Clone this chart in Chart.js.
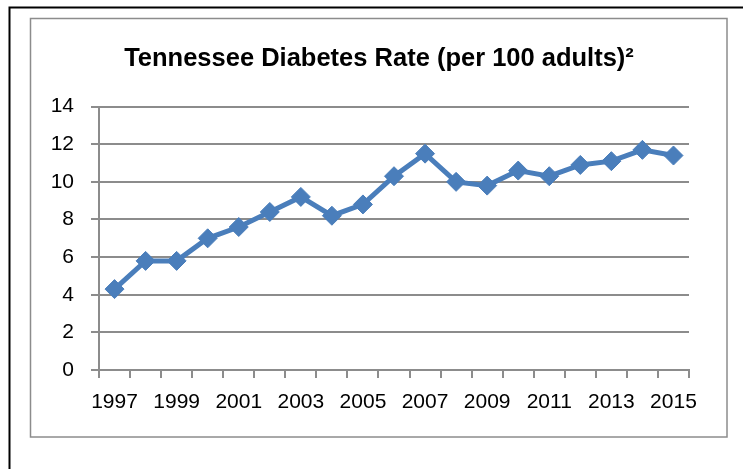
<!DOCTYPE html>
<html>
<head>
<meta charset="utf-8">
<script src="https://cdn.jsdelivr.net/npm/chart.js@4"></script>
<style>
  html, body { margin: 0; padding: 0; background: #ffffff; }
  #c { display: block; }
</style>
</head>
<body>
<canvas id="c" width="743" height="469"></canvas>
<script>
// ---- data ----
const years = ['1997','1998','1999','2000','2001','2002','2003','2004','2005','2006',
               '2007','2008','2009','2010','2011','2012','2013','2014','2015'];
const diabetesRate = [4.3, 5.8, 5.8, 7.0, 7.6, 8.4, 9.2, 8.2, 8.8, 10.3,
                      11.5, 10.0, 9.8, 10.6, 10.3, 10.9, 11.1, 11.7, 11.4];
const yTickValues = [0, 2, 4, 6, 8, 10, 12, 14];
const titleText = 'Tennessee Diabetes Rate (per 100 adults)';
const titleNote = '\u00B2';

const GRID = '#8c8c8c';
const BLUE = '#4A7EBB';
const FONT = "'Liberation Sans', Arial, sans-serif";

const framePlugin = {
  id: 'frames',
  afterLayout(chart) {
    // centre the title over the plot region like the original
    const t = chart.titleBlock;
    if (t) { t.left = 69; t.right = 689; t.width = 620; }
  },
  beforeDraw(chart) {
    const ctx = chart.ctx;
    ctx.save();
    ctx.fillStyle = '#ffffff';
    ctx.fillRect(0, 0, chart.width, chart.height);
    // outer page frame (black)
    ctx.strokeStyle = '#000000';
    ctx.lineWidth = 2;
    ctx.beginPath();
    ctx.moveTo(9.5, chart.height);
    ctx.lineTo(9.5, 7.5);
    ctx.lineTo(chart.width, 7.5);
    ctx.stroke();
    // chart border (grey)
    ctx.strokeStyle = GRID;
    ctx.lineWidth = 1.5;
    ctx.strokeRect(30.5, 18.5, 727 - 30.5, 437 - 18.5);
    ctx.restore();
  }
};

new Chart(document.getElementById('c'), {
  type: 'line',
  data: {
    labels: years,
    datasets: [{
      data: diabetesRate,
      borderColor: BLUE,
      backgroundColor: BLUE,
      borderWidth: 5,
      tension: 0,
      pointStyle: 'rectRot',
      pointRadius: 9.5,
      pointBackgroundColor: BLUE,
      pointBorderColor: BLUE,
      pointBorderWidth: 1
    }]
  },
  options: {
    responsive: false,
    animation: false,
    devicePixelRatio: 1,
    layout: { padding: { left: 0, right: 54, top: 0, bottom: 0 } },
    plugins: {
      legend: { display: false },
      tooltip: { enabled: false },
      title: {
        display: true,
        text: titleText + titleNote,
        color: '#000000',
        font: { family: FONT, size: 25.5, weight: 'bold' },
        padding: { top: 44, bottom: 32 }
      }
    },
    scales: {
      x: {
        type: 'category',
        offset: true,
        grid: {
          display: true,
          offset: true,
          drawOnChartArea: false,
          drawTicks: true,
          tickLength: 8,
          color: GRID,
          lineWidth: 2
        },
        border: { display: true, color: GRID, width: 2 },
        ticks: {
          autoSkip: false,
          maxRotation: 0,
          minRotation: 0,
          padding: 12,
          color: '#000000',
          font: { family: FONT, size: 21 },
          callback: (v, i) => (i % 2 === 0 ? years[i] : '')
        },
        afterFit: (s) => { s.height = 99; }
      },
      y: {
        min: yTickValues[0],
        max: yTickValues[yTickValues.length - 1],
        grid: {
          display: true,
          drawTicks: true,
          tickLength: 8,
          color: GRID,
          lineWidth: 2
        },
        border: { display: true, color: GRID, width: 2 },
        afterBuildTicks: (s) => { s.ticks = yTickValues.map(v => ({ value: v })); },
        ticks: {
          padding: 17,
          color: '#000000',
          font: { family: FONT, size: 21 }
        },
        afterFit: (s) => { s.width = 99; }
      }
    }
  },
  plugins: [framePlugin]
});
</script>
</body>
</html>
